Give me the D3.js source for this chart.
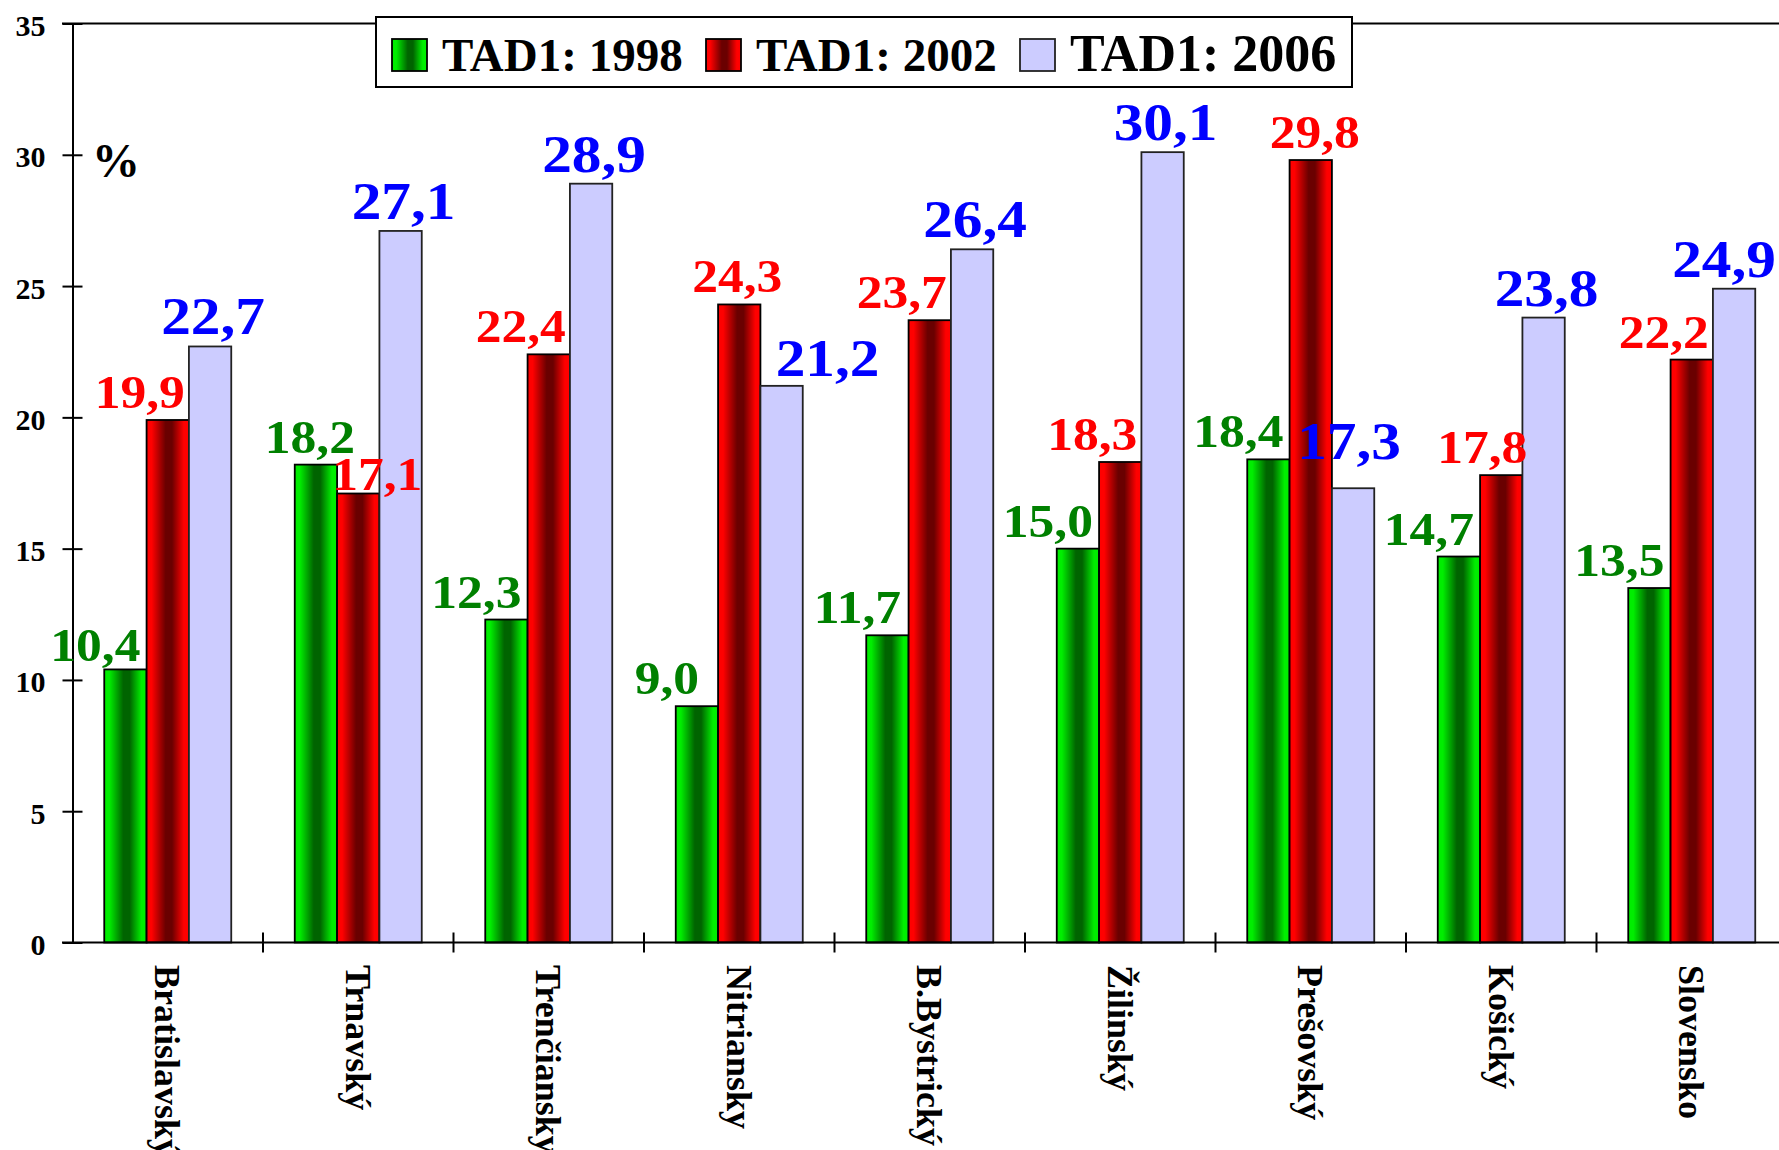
<!DOCTYPE html>
<head>
  <meta charset="UTF-8" />
  <title>TAD1 podľa krajov</title>
  <script src="https://d3js.org/d3.v7.min.js"></script>
  <style>
    body {
      margin: 0;
      background: #fff;
      overflow: hidden;
    }
    text {
      font-family: "Liberation Serif", "Times New Roman", serif;
      font-weight: bold;
    }
  </style>
</head>

<body>
  <script>
    // kraje a hodnoty (%)
    var regions = ["Bratislavský", "Trnavský", "Trenčiansky", "Nitriansky",
      "B.Bystrický", "Žilinský", "Prešovský", "Košický", "Slovensko"];
    var seriesNames = ["TAD1: 1998", "TAD1: 2002", "TAD1: 2006"];
    var v1998 = [10.4, 18.2, 12.3, 9.0, 11.7, 15.0, 18.4, 14.7, 13.5];
    var v2002 = [19.9, 17.1, 22.4, 24.3, 23.7, 18.3, 29.8, 17.8, 22.2];
    var v2006 = [22.7, 27.1, 28.9, 21.2, 26.4, 30.1, 17.3, 23.8, 24.9];
    var yTicks = [0, 5, 10, 15, 20, 25, 30, 35];

    var width = 1779,
      height = 1150;

    var x0 = 72.5, step = 190.5;

    var svg = d3.select("body").append("svg")
      .attr("width", width)
      .attr("height", height);

    // gradienty ako v Exceli
    var defs = svg.append("defs");
    function addGrad(id, bright, dark) {
      var gr = defs.append("linearGradient").attr("id", id)
        .attr("x1", "0%").attr("x2", "100%").attr("y1", "0%").attr("y2", "0%");
      [[0, bright], [0.12, bright], [0.45, dark], [0.6, dark], [0.88, bright], [1, bright]]
        .forEach(function (s) {
          gr.append("stop").attr("offset", s[0]).attr("stop-color", s[1]);
        });
    }
    addGrad("gGreen", "#00ee00", "#006400");
    addGrad("gRed", "#ff0000", "#6a0000");

    var fills = ["url(#gGreen)", "url(#gRed)", "#ccccff"];
    var strokes = ["#000", "#000", "#222"];
    var labelColors = ["#008000", "#ff0000", "#0000ff"];
    var labelSizes = [46, 46, 53];

    var y = d3.scaleLinear().domain([0, 35]).range([942.5, 23.5]);

    var x = d3.scaleBand()
      .domain(regions)
      .range([x0, x0 + step * regions.length])
      .paddingInner(1 / 3)
      .paddingOuter(1 / 6);

    var xs = d3.scaleBand().domain(d3.range(3)).range([0, x.bandwidth()]);

    var fmt = d3.formatLocale({ decimal: ",", thousands: " ", grouping: [3], currency: ["", ""] }).format(".1f");

    var table = regions.map(function (r, i) {
      return { region: r, vals: [v1998[i], v2002[i], v2006[i]] };
    });

    // horna linia (35)
    svg.append("line")
      .attr("x1", 62).attr("x2", width)
      .attr("y1", y(35)).attr("y2", y(35))
      .attr("stroke", "#000").attr("stroke-width", 2);

    // os Y
    var yAxis = svg.append("g")
      .attr("transform", "translate(" + x0 + ",0)")
      .call(d3.axisLeft(y).tickValues(yTicks).tickSize(10).tickSizeOuter(0).tickPadding(17));
    yAxis.select(".domain").attr("stroke-width", 2);
    yAxis.selectAll(".tick line").attr("x1", 10).attr("stroke-width", 2);
    yAxis.selectAll(".tick text")
      .style("font-size", "30px")
      .attr("fill", "#000")
      .attr("dy", "0.4em");

    svg.append("text")
      .attr("x", 92).attr("y", 177)
      .style("font-size", "48px")
      .text("%");

    // stlpce
    var groups = svg.selectAll("g.region")
      .data(table)
      .enter().append("g")
      .attr("class", "region")
      .attr("transform", function (d) { return "translate(" + x(d.region) + ",0)"; });

    groups.selectAll("rect")
      .data(function (d) { return d.vals; })
      .enter().append("rect")
      .attr("x", function (v, k) { return xs(k); })
      .attr("width", xs.bandwidth())
      .attr("y", function (v) { return y(v); })
      .attr("height", function (v) { return y(0) - y(v); })
      .attr("fill", function (v, k) { return fills[k]; })
      .attr("stroke", function (v, k) { return strokes[k]; })
      .attr("stroke-width", 1.8);

    // os X
    svg.append("line")
      .attr("x1", 62).attr("x2", width)
      .attr("y1", y(0)).attr("y2", y(0))
      .attr("stroke", "#000").attr("stroke-width", 2);

    svg.selectAll("line.xtick")
      .data(d3.range(1, regions.length + 1))
      .enter().append("line")
      .attr("class", "xtick")
      .attr("x1", function (i) { return x0 + i * x.step(); })
      .attr("x2", function (i) { return x0 + i * x.step(); })
      .attr("y1", y(0) - 10).attr("y2", y(0) + 10)
      .attr("stroke", "#000").attr("stroke-width", 2);

    svg.selectAll("text.xlab")
      .data(regions)
      .enter().append("text")
      .attr("class", "xlab")
      .attr("transform", function (d) {
        return "translate(" + (x(d) + x.bandwidth() / 2) + "," + 965 + ") rotate(90)";
      })
      .attr("dy", "0.35em")
      .style("font-size", "36px")
      .text(function (d) { return d; });

    // posuny popiskov (rucne presunute v povodnom grafe)
    var labelDx = [-30, -28, 3];
    var labelMoves = {
      "0-0": [-30, 4], "1-0": [-6, 0], "1-1": [19, 8], "3-1": [-2, 0], "3-2": [46, 2],
      "6-1": [4, 0], "6-2": [-4, -17], "7-1": [-19, 0], "8-2": [-10, 0]
    };

    groups.each(function (d, i) {
      d3.select(this).selectAll("text.val")
        .data(d.vals)
        .enter().append("text")
        .attr("class", "val")
        .attr("text-anchor", "middle")
        .attr("x", function (v, k) {
          var m = labelMoves[i + "-" + k];
          return xs(k) + xs.bandwidth() / 2 + (m ? m[0] : labelDx[k]);
        })
        .attr("y", function (v, k) {
          var m = labelMoves[i + "-" + k];
          return y(v) - 12 + (m ? m[1] : 0);
        })
        .attr("fill", function (v, k) { return labelColors[k]; })
        .style("font-size", function (v, k) { return labelSizes[k] + "px"; })
        .text(function (v) { return fmt(v); })
        .each(function () {
          // povodne pismo je o nieco sirsie
          var len = this.getComputedTextLength();
          d3.select(this).attr("textLength", len * 1.12).attr("lengthAdjust", "spacingAndGlyphs");
        });
    });

    // legenda
    var legend = svg.append("g");
    legend.append("rect")
      .attr("x", 376).attr("y", 17).attr("width", 976).attr("height", 70)
      .attr("fill", "#fff").attr("stroke", "#000").attr("stroke-width", 2);

    var legX = [392, 706, 1020];
    var legSize = [47, 47, 52];
    seriesNames.forEach(function (s, k) {
      legend.append("rect")
        .attr("x", legX[k]).attr("y", 39).attr("width", 35).attr("height", 32)
        .attr("fill", fills[k]).attr("stroke", strokes[k]).attr("stroke-width", 1.8);
      legend.append("text")
        .attr("x", legX[k] + 50).attr("y", 71)
        .style("font-size", legSize[k] + "px")
        .text(s);
    });
  </script>
</body>
